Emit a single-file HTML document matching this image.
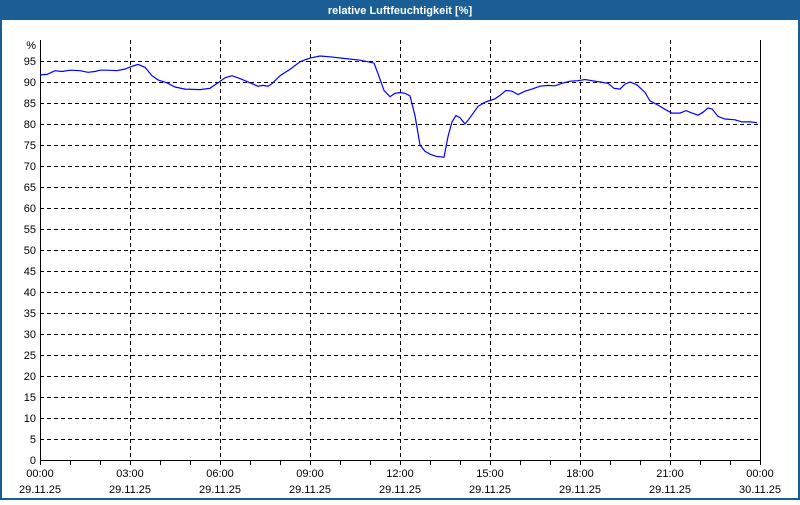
<!DOCTYPE html>
<html><head><meta charset="utf-8"><style>
body{margin:0;width:800px;height:500px;overflow:hidden;background:#fff;font-family:"Liberation Sans",sans-serif}
</style></head><body>
<svg id="s" width="800" height="500" xmlns="http://www.w3.org/2000/svg" font-family="Liberation Sans, sans-serif" font-size="11">
<rect x="0" y="0" width="800" height="500" fill="#fff"/>
<rect x="0" y="0" width="800" height="20" fill="#1b5e96"/>
<rect x="0" y="20" width="2" height="480" fill="#1b5e96"/>
<rect x="798" y="20" width="2" height="480" fill="#1b5e96"/>
<rect x="0" y="498" width="800" height="2" fill="#1b5e96"/>
<text x="400" y="14" fill="#fff" font-weight="bold" text-anchor="middle" font-size="11">relative Luftfeuchtigkeit [%]</text>
<g id="g"></g>
</svg>
<script>
var g=document.getElementById('g'),h='';
function Y(v){return 460-4.2*v;}
for(var v=5;v<=95;v+=5){var y=Y(v)+0.5;h+='<line x1="40" y1="'+y+'" x2="760" y2="'+y+'" stroke="#000" stroke-dasharray="4,3"/>';}
for(var i=1;i<8;i++){var x=40+90*i+0.5;h+='<line x1="'+x+'" y1="40" x2="'+x+'" y2="460" stroke="#000" stroke-dasharray="4,3"/>';}
h+='<polyline points="40.5,40 40.5,460.5 760.5,460.5 760.5,40" fill="none" stroke="#000"/>';
for(var i=0;i<=24;i++){var x=40+30*i+0.5;h+='<line x1="'+x+'" y1="460" x2="'+x+'" y2="465" stroke="#000"/>';}
for(var v=0;v<=95;v+=5){h+='<text x="36" y="'+(Y(v)+4)+'" text-anchor="end" fill="#000">'+v+'</text>';}
h+='<text x="36" y="49" text-anchor="end">%</text>';
var t=['00:00','03:00','06:00','09:00','12:00','15:00','18:00','21:00','00:00'];
for(var i=0;i<9;i++){var x=40+90*i;h+='<text x="'+x+'" y="477" text-anchor="middle">'+t[i]+'</text><text x="'+x+'" y="493" text-anchor="middle">'+(i==8?'30.11.25':'29.11.25')+'</text>';}
var d=[40,91.7,47,91.8,55,92.7,62,92.5,70,92.8,80,92.7,88,92.3,95,92.5,100,92.8,108,92.8,117,92.7,125,93.1,133,93.8,138,94.2,145,93.5,152,91.5,158,90.5,167,89.8,175,88.8,185,88.3,200,88.2,210,88.5,218,89.8,225,91,232,91.5,240,90.8,250,89.8,258,89,263,89.2,268,89,272,89.6,280,91.5,290,93,300,94.8,310,95.7,320,96.2,330,96.0,345,95.6,360,95.2,368,94.8,374,94.5,378,92,384,88,390,86.5,395,87.3,400,87.5,405,87.3,410,86.7,415,82,420,75,425,73.5,430,72.8,436,72.3,444,72.1,448,77,452,80.5,456,82,460,81.5,465,80,470,81.5,478,84.2,485,85.2,490,85.6,495,86,500,86.8,506,88,512,87.8,518,87,525,87.8,532,88.3,540,89,548,89.2,555,89.1,562,89.7,570,90.2,578,90.3,585,90.6,592,90.3,600,90,608,89.7,614,88.5,620,88.3,625,89.5,630,90,637,89.3,645,87.5,650,85.5,658,84.5,665,83.5,672,82.6,680,82.6,686,83.2,692,82.6,698,82.1,703,82.8,708,83.8,712,83.6,718,81.8,725,81.2,735,81,742,80.5,750,80.5,757,80.3];
var p='';for(var i=0;i<d.length;i+=2)p+=d[i]+','+Y(d[i+1]).toFixed(1)+' ';
h+='<polyline points="'+p+'" fill="none" stroke="#0000ff" stroke-width="1.2"/>';
g.innerHTML=h;
</script>
</body></html>
